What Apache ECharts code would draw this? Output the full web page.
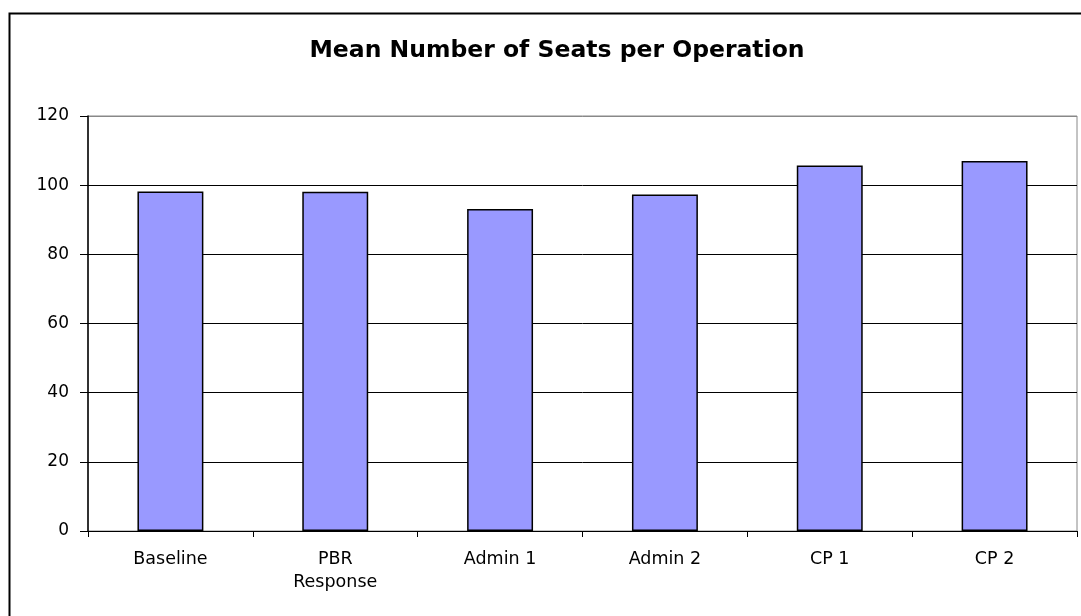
<!DOCTYPE html>
<html>
<head>
<meta charset="utf-8">
<script src="https://cdn.jsdelivr.net/npm/echarts@6/dist/echarts.min.js"></script>
<style>
	html, body { margin: 0; padding: 0; background: #fff; }
	#chart { width: 1081px; height: 616px; }
</style>
</head>
<body>
<div id="chart"></div>
<script>
var categories = ['Baseline', 'PBR\nResponse', 'Admin 1', 'Admin 2', 'CP 1', 'CP 2'];
var meanSeats = [98.2, 98.1, 93.1, 97.3, 105.7, 107.0];
var yTicks = [0, 20, 40, 60, 80, 100, 120];

var chart = echarts.init(document.getElementById('chart'));

// the source picture is horizontally stretched, DejaVu gets closer to that width
var font = 'DejaVu Sans, Verdana, sans-serif';

var option = {
	animation: false,
	title: {
		text: 'Mean Number of Seats per Operation',
		left: 552,
		textAlign: 'center',
		top: 34,
		textStyle: {
			fontFamily: font,
			fontSize: 23.5,
			fontWeight: 'bold',
			color: '#000'
		}
	},
	graphic: [
		{
			type: 'rect',
			shape: { x: 9.5, y: 13.5, width: 1100, height: 700 },
			style: { fill: 'none', stroke: '#000', lineWidth: 2 },
			z: 100
		}
	],
	grid: {
		left: 88,
		right: 4,
		top: 116,
		bottom: 85,
		show: true,
		borderColor: '#888',
		borderWidth: 1
	},
	xAxis: {
		type: 'category',
		data: categories,
		axisLine: { lineStyle: { color: '#000', width: 1 } },
		axisTick: { show: true, length: 6, lineStyle: { color: '#000' } },
		axisLabel: {
			interval: 0,
			margin: 17,
			fontFamily: font,
			fontSize: 17.5,
			lineHeight: 23,
			color: '#000'
		}
	},
	yAxis: {
		type: 'value',
		min: yTicks[0],
		max: yTicks[yTicks.length - 1],
		interval: 20,
		axisLine: { show: true, lineStyle: { color: '#000', width: 1.5 } },
		axisTick: { show: true, length: 8, lineStyle: { color: '#000' } },
		axisLabel: {
			margin: 19,
			fontFamily: font,
			fontSize: 17,
			color: '#000'
		},
		splitLine: {
			show: true,
			lineStyle: {
				color: ['#000', '#000', '#000', '#000', '#000', '#000', '#888'],
				width: 1
			}
		}
	},
	series: [
		{
			name: 'Mean Seats',
			type: 'bar',
			data: meanSeats,
			barWidth: '40%',
			itemStyle: {
				color: '#9999FF',
				borderColor: '#000',
				borderWidth: 1.5
			}
		}
	]
};

chart.setOption(option);
</script>
</body>
</html>
